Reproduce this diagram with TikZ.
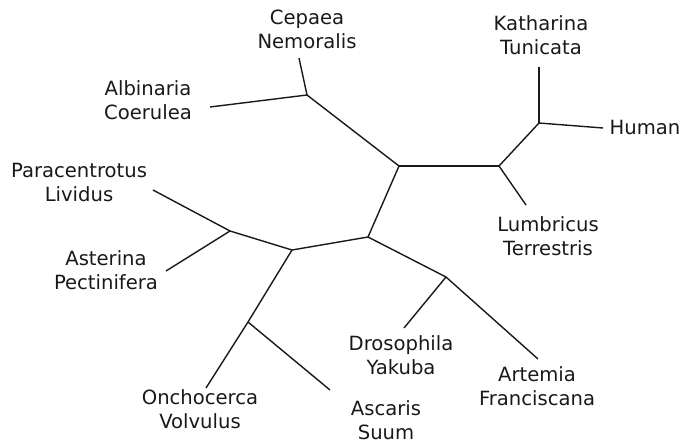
\documentclass[tikz,border=0pt]{standalone}
\usepackage{fontspec}
\setmainfont{DejaVu Sans}
\begin{document}
\begin{tikzpicture}[x=1pt,y=-1pt,
  branch/.style={line width=1.4pt,draw=black!90},
  taxon/.style={align=center,inner sep=0pt,font=\fontsize{19.6}{24}\selectfont,text=black!90}]
\useasboundingbox (0,0) rectangle (682,444);
% internal junctions
\coordinate (jA) at (307,95);
\coordinate (jB) at (399,166);
\coordinate (jC) at (499,166);
\coordinate (jD) at (539,123);
\coordinate (jE) at (368,237);
\coordinate (jF) at (446,277);
\coordinate (jG) at (292,250);
\coordinate (jH) at (230,231);
\coordinate (jI) at (248,322);
% branch tips
\coordinate (tCep) at (299,58);
\coordinate (tAlb) at (210,107);
\coordinate (tKat) at (539,67);
\coordinate (tHum) at (603,128);
\coordinate (tLum) at (526,205);
\coordinate (tDro) at (404,328);
\coordinate (tArt) at (538,359);
\coordinate (tPar) at (153,190);
\coordinate (tAst) at (166,271);
\coordinate (tOnc) at (206,388);
\coordinate (tAsc) at (330,390);
% taxon labels
\node[taxon] (lCep) at (307,29) {Cepaea\\Nemoralis};
\node[taxon] (lAlb) at (148,100) {Albinaria\\Coerulea};
\node[taxon] (lKat) at (541,35) {Katharina\\Tunicata};
\node[taxon] (lHum) at (645,127) {Human};
\node[taxon] (lLum) at (548,236) {Lumbricus\\Terrestris};
\node[taxon] (lPar) at (79,182) {Paracentrotus\\Lividus};
\node[taxon] (lAst) at (106,270) {Asterina\\Pectinifera};
\node[taxon] (lDro) at (401,355) {Drosophila\\Yakuba};
\node[taxon] (lArt) at (537,386) {Artemia\\Franciscana};
\node[taxon] (lOnc) at (200,409) {Onchocerca\\Volvulus};
\node[taxon] (lAsc) at (386,420) {Ascaris\\Suum};
% tree
\draw[branch] (tCep) -- (jA);
\draw[branch] (tAlb) -- (jA);
\draw[branch] (jA) -- (jB);
\draw[branch] (jB) -- (jC);
\draw[branch] (jC) -- (jD);
\draw[branch] (jD) -- (tKat);
\draw[branch] (jD) -- (tHum);
\draw[branch] (jC) -- (tLum);
\draw[branch] (jB) -- (jE);
\draw[branch] (jE) -- (jF);
\draw[branch] (jF) -- (tDro);
\draw[branch] (jF) -- (tArt);
\draw[branch] (jE) -- (jG);
\draw[branch] (jG) -- (jH);
\draw[branch] (jH) -- (tPar);
\draw[branch] (jH) -- (tAst);
\draw[branch] (jG) -- (jI);
\draw[branch] (jI) -- (tOnc);
\draw[branch] (jI) -- (tAsc);
\end{tikzpicture}
\end{document}
